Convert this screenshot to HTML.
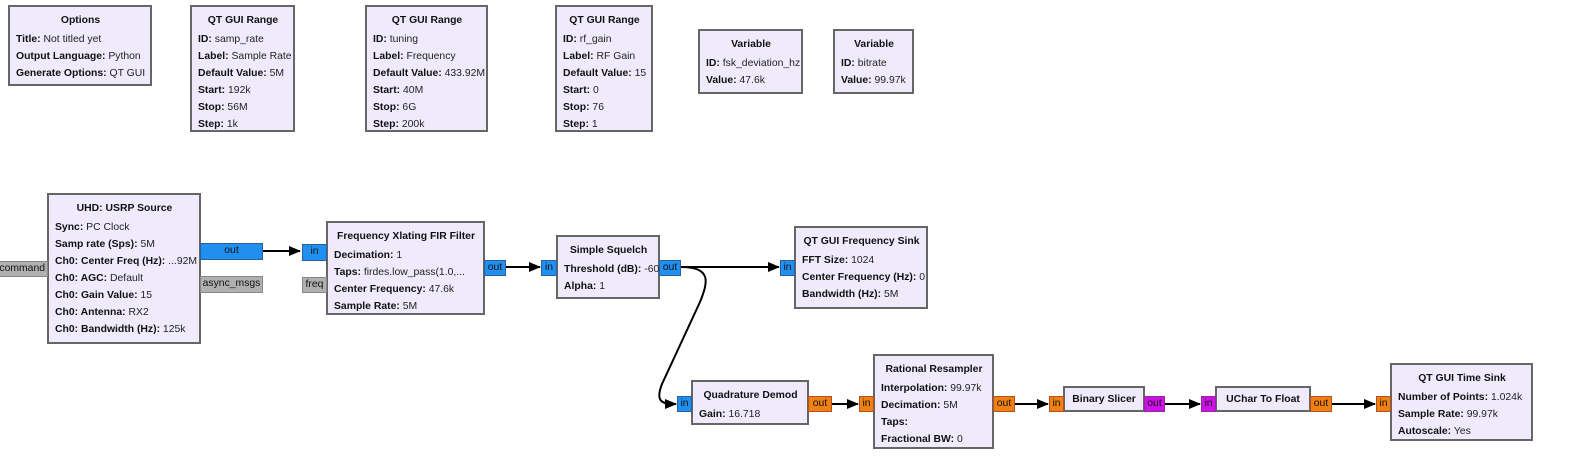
<!DOCTYPE html>
<html><head><meta charset="utf-8"><style>
body{margin:0;width:1579px;height:464px;background:#fff;position:relative;overflow:hidden;font-family:"Liberation Sans","DejaVu Sans",sans-serif;font-size:10.4px;color:#222}
.b{position:absolute;box-sizing:border-box;background:#efebfd;border:2px solid #666;padding:4px 5px 0 6px;white-space:nowrap}
.b .t{font-weight:bold;text-align:center;height:20px;line-height:20px;color:#111}
.b div.l{height:17px;line-height:17px}
.b b{color:#111}
.c{display:flex;align-items:center;justify-content:center;padding:0;font-weight:bold;color:#111}
.p{position:absolute;box-sizing:border-box;border:1px solid;font-size:10.4px;line-height:14px;text-align:center;overflow:hidden;white-space:nowrap;color:#111}
.bl{background:#2090f0;border-color:#2a5f9a}
.or{background:#f08010;border-color:#b0502a}
.mg{background:#d010e8;border-color:#902a9a}
.gr{background:#b0b0b0;border-color:#888}
svg{position:absolute;left:0;top:0}
</style></head><body>

<div class="b" style="left:8px;top:5px;width:144px;height:81px"><div class="t">Options</div><div class="l"><b>Title:</b> Not titled yet</div><div class="l"><b>Output Language:</b> Python</div><div class="l"><b>Generate Options:</b> QT GUI</div></div>

<div class="b" style="left:190px;top:5px;width:105px;height:127px"><div class="t">QT GUI Range</div><div class="l"><b>ID:</b> samp_rate</div><div class="l"><b>Label:</b> Sample Rate</div><div class="l"><b>Default Value:</b> 5M</div><div class="l"><b>Start:</b> 192k</div><div class="l"><b>Stop:</b> 56M</div><div class="l"><b>Step:</b> 1k</div></div>

<div class="b" style="left:365px;top:5px;width:123px;height:127px"><div class="t">QT GUI Range</div><div class="l"><b>ID:</b> tuning</div><div class="l"><b>Label:</b> Frequency</div><div class="l"><b>Default Value:</b> 433.92M</div><div class="l"><b>Start:</b> 40M</div><div class="l"><b>Stop:</b> 6G</div><div class="l"><b>Step:</b> 200k</div></div>

<div class="b" style="left:555px;top:5px;width:98px;height:127px"><div class="t">QT GUI Range</div><div class="l"><b>ID:</b> rf_gain</div><div class="l"><b>Label:</b> RF Gain</div><div class="l"><b>Default Value:</b> 15</div><div class="l"><b>Start:</b> 0</div><div class="l"><b>Stop:</b> 76</div><div class="l"><b>Step:</b> 1</div></div>

<div class="b" style="left:698px;top:29px;width:105px;height:65px"><div class="t">Variable</div><div class="l"><b>ID:</b> fsk_deviation_hz</div><div class="l"><b>Value:</b> 47.6k</div></div>

<div class="b" style="left:833px;top:29px;width:81px;height:65px"><div class="t">Variable</div><div class="l"><b>ID:</b> bitrate</div><div class="l"><b>Value:</b> 99.97k</div></div>

<div class="b" style="left:47px;top:193px;width:154px;height:151px"><div class="t">UHD: USRP Source</div><div class="l"><b>Sync:</b> PC Clock</div><div class="l"><b>Samp rate (Sps):</b> 5M</div><div class="l"><b>Ch0: Center Freq (Hz):</b> ...92M</div><div class="l"><b>Ch0: AGC:</b> Default</div><div class="l"><b>Ch0: Gain Value:</b> 15</div><div class="l"><b>Ch0: Antenna:</b> RX2</div><div class="l"><b>Ch0: Bandwidth (Hz):</b> 125k</div></div>
<div class="p bl" style="left:200px;top:243px;width:63px;height:17px">out</div>
<div class="p gr" style="left:200px;top:276px;width:63px;height:17px">async_msgs</div>
<div class="p gr" style="left:-2px;top:261px;width:50px;height:16px;text-align:right;padding-right:2px">command</div>

<div class="b" style="left:326px;top:221px;width:159px;height:94px"><div class="t">Frequency Xlating FIR Filter</div><div class="l"><b>Decimation:</b> 1</div><div class="l"><b>Taps:</b> firdes.low_pass(1.0,...</div><div class="l"><b>Center Frequency:</b> 47.6k</div><div class="l"><b>Sample Rate:</b> 5M</div></div>
<div class="p bl" style="left:302px;top:244px;width:25px;height:17px">in</div>
<div class="p gr" style="left:302px;top:277px;width:25px;height:16px">freq</div>
<div class="p bl" style="left:484px;top:260px;width:22px;height:16px">out</div>

<div class="b" style="left:556px;top:235px;width:104px;height:64px"><div class="t">Simple Squelch</div><div class="l"><b>Threshold (dB):</b> -60</div><div class="l"><b>Alpha:</b> 1</div></div>
<div class="p bl" style="left:541px;top:260px;width:16px;height:16px">in</div>
<div class="p bl" style="left:659px;top:260px;width:22px;height:16px">out</div>

<div class="b" style="left:794px;top:226px;width:134px;height:83px"><div class="t">QT GUI Frequency Sink</div><div class="l"><b>FFT Size:</b> 1024</div><div class="l"><b>Center Frequency (Hz):</b> 0</div><div class="l"><b>Bandwidth (Hz):</b> 5M</div></div>
<div class="p bl" style="left:780px;top:260px;width:15px;height:16px">in</div>

<div class="b" style="left:691px;top:380px;width:118px;height:45px"><div class="t">Quadrature Demod</div><div class="l"><b>Gain:</b> 16.718</div></div>
<div class="p bl" style="left:677px;top:396px;width:15px;height:16px">in</div>
<div class="p or" style="left:808px;top:396px;width:24px;height:16px">out</div>

<div class="b" style="left:873px;top:354px;width:121px;height:95px"><div class="t">Rational Resampler</div><div class="l"><b>Interpolation:</b> 99.97k</div><div class="l"><b>Decimation:</b> 5M</div><div class="l"><b>Taps:</b></div><div class="l"><b>Fractional BW:</b> 0</div></div>
<div class="p or" style="left:859px;top:396px;width:15px;height:16px">in</div>
<div class="p or" style="left:993px;top:396px;width:22px;height:16px">out</div>

<div class="b c" style="left:1063px;top:386px;width:82px;height:26px">Binary Slicer</div>
<div class="p or" style="left:1049px;top:396px;width:15px;height:16px">in</div>
<div class="p mg" style="left:1144px;top:396px;width:21px;height:16px">out</div>

<div class="b c" style="left:1215px;top:386px;width:96px;height:26px">UChar To Float</div>
<div class="p mg" style="left:1201px;top:396px;width:15px;height:16px">in</div>
<div class="p or" style="left:1310px;top:396px;width:22px;height:16px">out</div>

<div class="b" style="left:1390px;top:363px;width:143px;height:78px"><div class="t">QT GUI Time Sink</div><div class="l"><b>Number of Points:</b> 1.024k</div><div class="l"><b>Sample Rate:</b> 99.97k</div><div class="l"><b>Autoscale:</b> Yes</div></div>
<div class="p or" style="left:1376px;top:396px;width:15px;height:16px">in</div>

<svg width="1579" height="464" viewBox="0 0 1579 464">
<defs><marker id="a" markerWidth="12" markerHeight="10" refX="11" refY="5" orient="auto" markerUnits="userSpaceOnUse"><path d="M0,0 L12,5 L0,10 z" fill="#000"/></marker></defs>
<g stroke="#000" stroke-width="2" fill="none" marker-end="url(#a)">
<path d="M263,251 L300,251"/>
<path d="M506,267 L540,267"/>
<path d="M681,267 L779,267"/>
<path d="M681,267 C712,267 708,282 700,302 L662,384 C655,402 662,404 676,404"/>
<path d="M832,404 L858,404"/>
<path d="M1015,404 L1048,404"/>
<path d="M1165,404 L1200,404"/>
<path d="M1332,404 L1375,404"/>
</g>
</svg>
</body></html>
